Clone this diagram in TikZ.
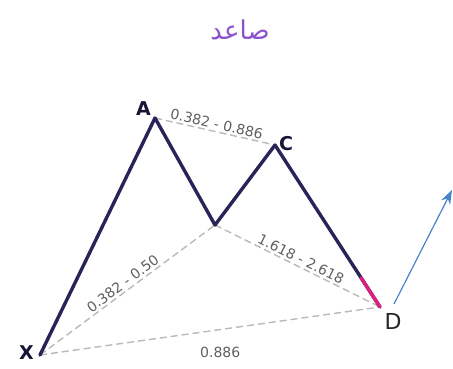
\documentclass[tikz,border=0pt]{standalone}
\usepackage{fontspec}
\setmainfont{DejaVu Sans}
\newfontfamily\arabicfont[Script=Arabic]{DejaVu Sans}
\TeXXeTstate=1
\usetikzlibrary{calc}
\usetikzlibrary{arrows.meta}
\definecolor{navy}{RGB}{38,36,88}
\definecolor{pinkleg}{RGB}{222,30,128}
\definecolor{trendblue}{RGB}{70,132,204}
\definecolor{titlepurple}{RGB}{140,82,204}
\definecolor{ratiogray}{RGB}{185,185,185}
\definecolor{ratiotext}{RGB}{95,95,95}

\begin{document}
\begin{tikzpicture}[x=1pt, y=-1pt,
    leg/.style={navy, line width=3.4pt, line join=round, line cap=round},
    ratio/.style={ratiogray, line width=1.4pt, dash pattern=on 7pt off 4pt},
    ratiolbl/.style={font=\fontsize{14}{15}\selectfont, text=ratiotext, inner sep=2pt},
    onslope/.style={midway, sloped, above},
    underflat/.style={pos=0.53, below=15pt},
    ptlbl/.style={font=\fontsize{19}{20}\selectfont\bfseries, text=navy!60!black, inner sep=1pt}]
    \useasboundingbox (0,0) rectangle (453,369);
    % pattern points
    \coordinate (X) at (40,355);
    \coordinate (A) at (155,118);
    \coordinate (B) at (215,225);
    \coordinate (C) at (275,145);
    \coordinate (D) at (380,307);
    \coordinate (trendstart) at (394,304);
    \coordinate (trendend) at (452,190);

    \node[font=\fontsize{26}{28}\selectfont\arabicfont, text=titlepurple] (title) at (240,30) {\beginR صاعد\endR};

    % ratio lines
    \foreach \a/\b/\r/\p in {A/C/{0.382 - 0.886}/onslope, X/B/{0.382 - 0.50}/onslope, B/D/{1.618 - 2.618}/onslope, X/D/{0.886}/underflat} {
        \draw[ratio] (\a) -- (\b) node[ratiolbl, \p] (lbl\a\b) {\r};
    }

    \draw[leg] (X) -- (A) -- (B) -- (C) -- (D);
    \draw[pinkleg, line width=3.4pt, line cap=round] ($(C)!0.82!(D)$) -- (D);

    \draw[trendblue, line width=1.2pt, -{Stealth[length=14pt, width=10pt]}] (trendstart) -- (trendend);

    \node[ptlbl, anchor=east] (labX) at ($(X)+(-5,-2)$) {X};
    \node[ptlbl, anchor=south east] (labA) at ($(A)+(-3,-1)$) {A};
    \node[ptlbl, anchor=west] (labC) at ($(C)+(3,-1)$) {C};
    \node[font=\fontsize{22}{24}\selectfont, text=black!85, anchor=north west] (labD) at ($(D)+(1,3)$) {D};
\end{tikzpicture}
\end{document}
